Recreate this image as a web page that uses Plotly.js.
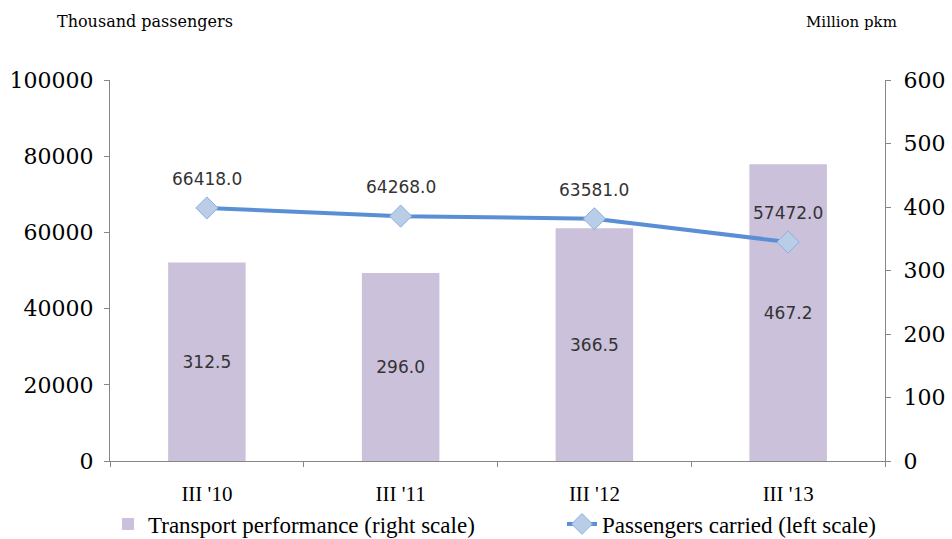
<!DOCTYPE html>
<html>
<head>
<meta charset="utf-8">
<script src="https://cdn.plot.ly/plotly-3.0.1.min.js"></script>
<style>
html,body{margin:0;padding:0;background:#fff;}
#chart{width:952px;height:539px;}
</style>
</head>
<body>
<div id="chart"></div>
<script>
var categories = ["III '10", "III '11", "III '12", "III '13"];
var transportPerformance = [312.5, 296.0, 366.5, 467.2];
var passengersCarried = [66418.0, 64268.0, 63581.0, 57472.0];
var leftTicks = [0, 20000, 40000, 60000, 80000, 100000];
var rightTicks = [0, 100, 200, 300, 400, 500, 600];

var serif = "Liberation Serif, Times New Roman, serif";
var wideSerif = "DejaVu Serif, serif";
var sans = "DejaVu Sans, Verdana, sans-serif";

var bars = {
  type: 'bar',
  name: 'Transport performance (right scale)',
  x: categories,
  y: transportPerformance,
  yaxis: 'y',
  legend: 'legend',
  width: 0.4,
  marker: {color: '#CBC1DB'},
  text: transportPerformance.map(function(v){return v.toFixed(1);}),
  textposition: 'inside',
  insidetextanchor: 'middle',
  textangle: 0,
  insidetextfont: {family: sans, size: 17, color: '#333333'},
  hoverinfo: 'none'
};

var line = {
  type: 'scatter',
  mode: 'lines+markers',
  name: 'Passengers carried (left scale)',
  x: categories,
  y: passengersCarried,
  yaxis: 'y2',
  legend: 'legend2',
  line: {color: '#5A8FD6', width: 4},
  marker: {symbol: 'diamond', size: 17, color: '#B9CDE6', line: {color: '#8CB0E0', width: 1}},
  hoverinfo: 'none'
};

var annotations = passengersCarried.map(function(v, i){
  return {x: categories[i], y: v, xref: 'x', yref: 'y2', text: v.toFixed(1),
    showarrow: false, yshift: 29, font: {family: sans, size: 17, color: '#333333'}};
});
annotations.push({xref: 'paper', yref: 'paper', x: (145-110)/775, y: (461-22)/381, xanchor: 'center', yanchor: 'middle',
  text: 'Thousand passengers', showarrow: false, font: {family: wideSerif, size: 16, color: '#000'}});
annotations.push({xref: 'paper', yref: 'paper', x: (851-110)/775, y: (461-22)/381, xanchor: 'center', yanchor: 'middle',
  text: 'Million pkm', showarrow: false, font: {family: wideSerif, size: 15, color: '#000'}});

var legendFont = {family: serif, size: 23, color: '#000'};

var layout = {
  width: 952, height: 539,
  margin: {l: 110, r: 67, t: 80, b: 78, autoexpand: false},
  paper_bgcolor: '#fff', plot_bgcolor: '#fff',
  showlegend: true,
  legend: {orientation: 'h', x: (108-110)/775, xanchor: 'left', y: (461-524)/381, yanchor: 'middle',
    font: legendFont, bgcolor: 'rgba(0,0,0,0)'},
  legend2: {orientation: 'h', x: (562-110)/775, xanchor: 'left', y: (461-524)/381, yanchor: 'middle',
    font: legendFont, bgcolor: 'rgba(0,0,0,0)'},
  xaxis: {
    type: 'category', range: [-0.5, 3.5],
    showline: true, linecolor: '#868686', linewidth: 1,
    ticks: 'outside', tickson: 'boundaries', ticklen: 5, tickcolor: '#868686',
    showgrid: false, zeroline: false,
    tickfont: {family: serif, size: 21, color: '#000'},
    ticklabelstandoff: 14
  },
  yaxis: {
    side: 'right',
    range: [0, 600], tickvals: rightTicks, ticktext: rightTicks.map(String),
    showline: true, linecolor: '#868686', linewidth: 1,
    ticks: 'outside', ticklen: 5, tickcolor: '#868686',
    showgrid: false, zeroline: false,
    tickfont: {family: wideSerif, size: 22, color: '#000'},
    ticklabelstandoff: 8
  },
  yaxis2: {
    side: 'left', overlaying: 'y',
    range: [0, 100000], tickvals: leftTicks, ticktext: leftTicks.map(String),
    showline: true, linecolor: '#868686', linewidth: 1,
    ticks: 'outside', ticklen: 5, tickcolor: '#868686',
    showgrid: false, zeroline: false,
    tickfont: {family: wideSerif, size: 22, color: '#000'},
    ticklabelstandoff: 6
  },
  annotations: annotations
};

Plotly.newPlot('chart', [bars, line], layout, {staticPlot: true, displayModeBar: false});
</script>
</body>
</html>
